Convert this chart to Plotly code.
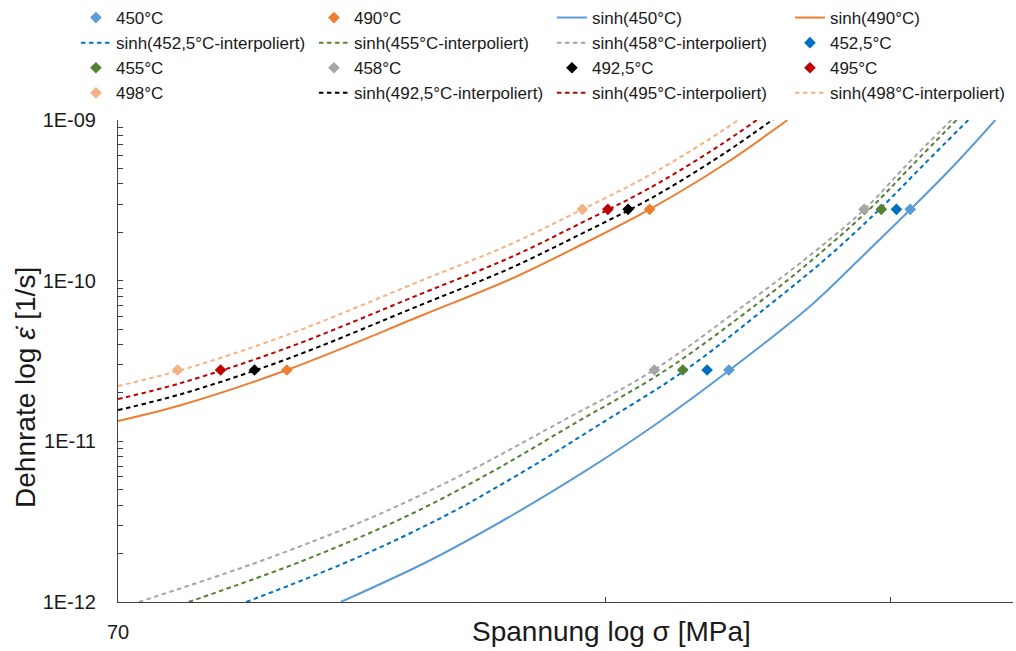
import plotly.graph_objects as go

# ---------------- data ----------------
# measured points (stress in MPa, strain rate in 1/s)
rate_pts = [2.78e-11, 2.78e-10]
pts_450 = [166.9, 216.0]
pts_452 = [161.8, 211.8]
pts_455 = [156.3, 207.3]
pts_458 = [150.1, 202.3]
pts_490 = [89.0, 149.1]
pts_492 = [85.0, 144.6]
pts_495 = [81.0, 140.5]
pts_498 = [76.2, 135.5]

# 450-458 °C curves: stress read at these strain rates
rate_low = [1.0e-12, 1.826e-12, 3.43e-12, 6.45e-12, 1.264e-11, 2.78e-11,
            7.06e-11, 1.384e-10, 2.78e-10, 5.25e-10, 1.0e-9]
sinh_450 = [96.1, 109.2, 122.4, 135.8, 150.2, 167.1, 187.7, 201.3, 216.1, 230.0, 243.8]
sinh_452 = [84.0, 97.6, 111.4, 124.5, 138.7, 156.9, 176.8, 191.8, 206.8, 220.1, 234.6]
sinh_455 = [77.4, 91.3, 105.6, 119.1, 133.5, 152.6, 173.4, 188.5, 203.8, 216.7, 230.7]
sinh_458 = [72.1, 86.1, 100.9, 115.1, 130.3, 150.0, 170.7, 186.4, 202.4, 214.9, 229.0]

# 490-498 °C curves: strain rate read at these stresses
stress_high = [70.0, 76.6, 89.0, 108.0, 122.4, 135.2, 149.1, 165.2, 181.4]
sinh_490 = [1.338e-11, 1.683e-11, 2.78e-11, 6.11e-11, 1.024e-10, 1.667e-10, 2.78e-10, 5.17e-10, 1.0e-9]
sinh_492 = [1.565e-11, 1.97e-11, 3.25e-11, 7.15e-11, 1.20e-10, 1.95e-10, 3.22e-10, 6.05e-10, 1.17e-9]
sinh_495 = [1.833e-11, 2.31e-11, 3.81e-11, 8.37e-11, 1.40e-10, 2.28e-10, 3.77e-10, 7.08e-10, 1.37e-9]
sinh_498 = [2.21e-11, 2.78e-11, 4.59e-11, 1.01e-10, 1.69e-10, 2.75e-10, 4.54e-10, 8.53e-10, 1.65e-9]

x_ticks = [70, 140, 210, 250]
x_ticktext = ["70", "", "", ""]
y_ticks = []
y_ticktext = []
for dec in [-12, -11, -10]:
    for m in range(1, 10):
        y_ticks.append(m * 10.0 ** dec)
        y_ticktext.append("1E-%02d" % -dec if m == 1 else "")
y_ticks.append(1e-9)
y_ticktext.append("1E-09")

C_LB = "#5B9BD5"
C_OR = "#ED7D31"
C_BL = "#0070C0"
C_GR = "#548235"
C_GY = "#A5A5A5"
C_BK = "#000000"
C_RD = "#C00000"
C_LO = "#F4B183"

DASH = "4.5px,3.5px"
FONT = "Liberation Sans, Arial, sans-serif"
TXT = "#1a1a1a"

fig = go.Figure()

def line(x, y, name, color, dash, rank):
    fig.add_trace(go.Scatter(x=x, y=y, mode="lines", name=name, legendrank=rank,
                             line=dict(color=color, width=2, dash=dash, shape="spline", smoothing=1.0),
                             hoverinfo="skip"))

def pts(x, name, color, rank):
    fig.add_trace(go.Scatter(x=x, y=rate_pts, mode="markers", name=name, legendrank=rank,
                             marker=dict(symbol="diamond", size=9, color=color, line=dict(width=0))))

line(sinh_450, rate_low, "sinh(450°C)", C_LB, "solid", 3)
line(stress_high, sinh_490, "sinh(490°C)", C_OR, "solid", 4)
line(sinh_452, rate_low, "sinh(452,5°C-interpoliert)", C_BL, DASH, 5)
line(sinh_455, rate_low, "sinh(455°C-interpoliert)", C_GR, DASH, 6)
line(sinh_458, rate_low, "sinh(458°C-interpoliert)", C_GY, DASH, 7)
line(stress_high, sinh_492, "sinh(492,5°C-interpoliert)", C_BK, DASH, 14)
line(stress_high, sinh_495, "sinh(495°C-interpoliert)", C_RD, DASH, 15)
line(stress_high, sinh_498, "sinh(498°C-interpoliert)", C_LO, DASH, 16)

pts(pts_450, "450°C", C_LB, 1)
pts(pts_490, "490°C", C_OR, 2)
pts(pts_452, "452,5°C", C_BL, 8)
pts(pts_455, "455°C", C_GR, 9)
pts(pts_458, "458°C", C_GY, 10)
pts(pts_492, "492,5°C", C_BK, 11)
pts(pts_495, "495°C", C_RD, 12)
pts(pts_498, "498°C", C_LO, 13)

axis_common = dict(type="log", showgrid=False, zeroline=False, showline=True,
                   linecolor="#404040", linewidth=1, ticks="inside", ticklen=5,
                   tickcolor="#404040", tickfont=dict(size=20, color=TXT, family=FONT))

fig.update_layout(
    width=1016, height=651,
    margin=dict(l=118, r=3, t=120, b=49, autoexpand=False),
    paper_bgcolor="white", plot_bgcolor="white",
    font=dict(family=FONT, color=TXT),
    xaxis=dict(axis_common, range=[1.84510, 2.39794], tickvals=x_ticks, ticktext=x_ticktext,
               ticklabelstandoff=12),
    yaxis=dict(axis_common, range=[-12, -9], tickvals=y_ticks, ticktext=y_ticktext,
               ticklabelstandoff=17),
    legend=dict(orientation="h", x=-0.0470, xanchor="left", y=1.2490, yanchor="top",
                entrywidth=193, entrywidthmode="pixels", traceorder="normal",
                font=dict(size=17, color=TXT, family=FONT), bgcolor="rgba(0,0,0,0)",
                itemwidth=30),
    showlegend=True,
    annotations=[
        dict(text="Spannung log σ [MPa]", xref="paper", yref="paper", x=0.551, y=-0.0622,
             xanchor="center", yanchor="middle", showarrow=False,
             font=dict(size=28, color=TXT, family=FONT)),
        dict(text="Dehnrate log <i>ε̇</i> [1/s]", xref="paper", yref="paper", x=-0.104, y=0.446,
             xanchor="center", yanchor="middle", textangle=-90, showarrow=False,
             font=dict(size=28, color=TXT, family=FONT)),
    ],
)

fig.write_html("out.html",
               config={"displayModeBar": False},
               post_script="document.body.style.margin='0px';"
                           "document.documentElement.style.overflow='hidden';")
